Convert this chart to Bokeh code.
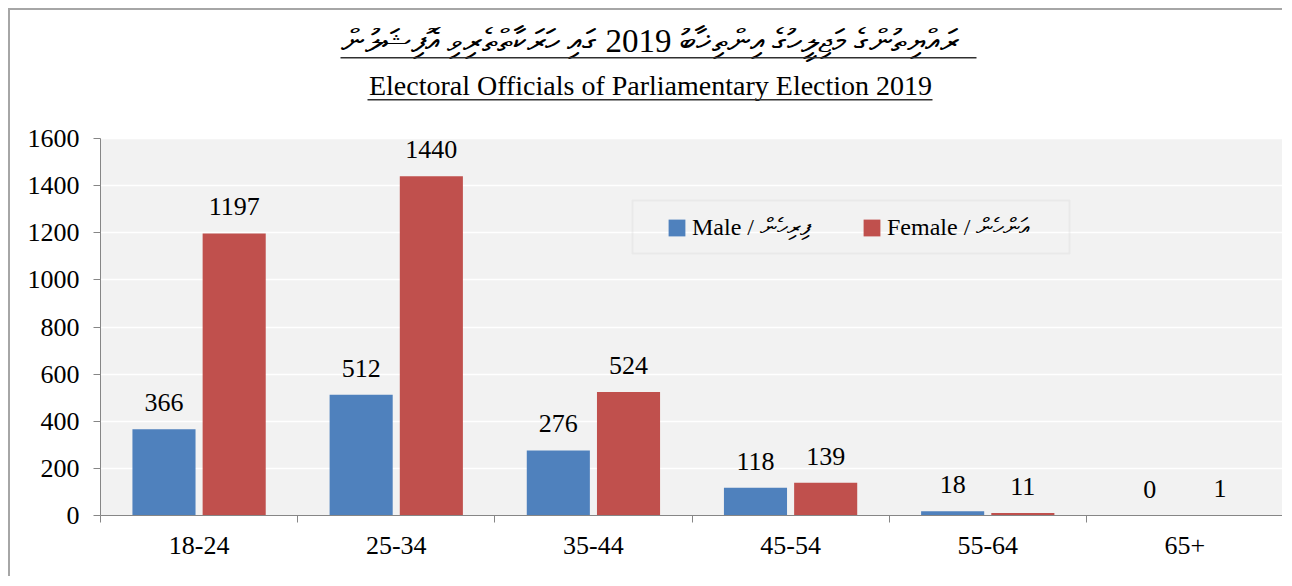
from bokeh.plotting import figure
from bokeh.models import (ColumnDataSource, Range1d, FixedTicker,
                          LabelSet, Label, Legend, LegendItem, BoxAnnotation)
from bokeh.transform import dodge
from bokeh.core.properties import value
from bokeh.embed import file_html
from bokeh.resources import INLINE

# ---- data ----
categories = ["18-24", "25-34", "35-44", "45-54", "55-64", "65+"]
male = [366, 512, 276, 118, 18, 0]
female = [1197, 1440, 524, 139, 11, 1]
y_ticks = [0, 200, 400, 600, 800, 1000, 1200, 1400, 1600]
title_dv = "ރައްޔިތުންގެ މަޖިލީހުގެ އިންތިޚާބު 2019 ގައި ހަރަކާތްތެރިވި އޮފިޝަލުން"
title_en = "Electoral Officials of Parliamentary Election 2019"
legend_male = "Male / ފިރިހެން"
legend_female = "Female / އަންހެން"

MALE_C = "#4f81bd"
FEMALE_C = "#c0504d"
AXIS_C = "#868686"
FONT = "Liberation Serif"

# layout (pixels)
FIG_W, FIG_H = 1274, 568
BORDER_BOTTOM = 63
PLOT_AREA_PX = 377           # height of the grey plot area (0..1600)
FRAME_PX = FIG_H - BORDER_BOTTOM
y_top = y_ticks[-1] * FRAME_PX / PLOT_AREA_PX   # room above the plot area for the titles

n = len(categories)
centers = [i + 0.5 for i in range(n)]
src = ColumnDataSource(dict(
    cat=categories, pos=centers, male=male, female=female,
    male_txt=[str(v) for v in male], female_txt=[str(v) for v in female],
))

p = figure(x_range=Range1d(0, n), y_range=Range1d(0, y_top),
           width=FIG_W, height=FIG_H, output_backend="svg", toolbar_location=None,
           min_border_left=90, min_border_right=1,
           min_border_top=0, min_border_bottom=BORDER_BOTTOM,
           background_fill_color="white", border_fill_color="white",
           outline_line_color=None, margin=(8, 0, 0, 8))
p.styles = {"border-top": "2px solid #a6a6a6", "border-left": "2px solid #a6a6a6"}

# grey plot area
p.add_layout(BoxAnnotation(left=0, right=n, bottom=0, top=y_ticks[-1],
                           fill_color="#f2f2f2", fill_alpha=1, line_color=None,
                           level="image"))

# y axis
yt = FixedTicker(ticks=y_ticks)
p.yaxis.ticker = yt
p.yaxis.bounds = (0, y_ticks[-1])
p.ygrid.ticker = yt
p.ygrid.grid_line_color = "white"
p.ygrid.grid_line_width = 1.5
p.xgrid.visible = False
p.yaxis.axis_line_color = AXIS_C
p.yaxis.major_tick_line_color = AXIS_C
p.yaxis.major_tick_out = 7
p.yaxis.major_tick_in = 0
p.yaxis.minor_tick_line_color = None
p.yaxis.major_label_text_font = FONT
p.yaxis.major_label_text_font_size = "26px"
p.yaxis.major_label_text_color = "black"
p.yaxis.major_label_standoff = 14

# x axis: ticks at category boundaries, labels at centres
xt = FixedTicker(ticks=centers, minor_ticks=list(range(n + 1)))
p.xaxis.ticker = xt
p.xaxis.major_label_overrides = {c: lab for c, lab in zip(centers, categories)}
p.xaxis.major_tick_out = 0
p.xaxis.major_tick_in = 0
p.xaxis.minor_tick_out = 7
p.xaxis.minor_tick_in = 0
p.xaxis.axis_line_color = AXIS_C
p.xaxis.minor_tick_line_color = AXIS_C
p.xaxis.major_label_text_font = FONT
p.xaxis.major_label_text_font_size = "26px"
p.xaxis.major_label_text_color = "black"
p.xaxis.major_label_standoff = 14

# bars
OFF = 0.178
W = 0.32
r_m = p.vbar(x=dodge("pos", -OFF), top="male", width=W, source=src,
             fill_color=MALE_C, line_color=None)
r_f = p.vbar(x=dodge("pos", OFF), top="female", width=W, source=src,
             fill_color=FEMALE_C, line_color=None)

for col, txt, off in (("male", "male_txt", -OFF), ("female", "female_txt", OFF)):
    p.add_layout(LabelSet(x=dodge("pos", off), y=col, text=txt, source=src,
                          text_align="center", text_baseline="alphabetic", y_offset=18,
                          text_font=value(FONT), text_font_size=value("26px"),
                          text_color=value("black")))

# titles (screen units, measured from the frame's lower-left corner)
p.add_layout(Label(x=550, y=475, x_units="screen", y_units="screen", text=title_dv,
                   text_align="center", text_baseline="middle", text_font=FONT,
                   text_font_size="33px", text_color="black"))
p.add_layout(BoxAnnotation(left=240, right=876, bottom=457, top=458.5,
                           left_units="screen", right_units="screen",
                           bottom_units="screen", top_units="screen",
                           fill_color="#303030", fill_alpha=1, line_color=None))
p.add_layout(Label(x=550, y=430, x_units="screen", y_units="screen", text=title_en,
                   text_align="center", text_baseline="middle", text_font=FONT,
                   text_font_size="28px", text_color="black"))
p.add_layout(BoxAnnotation(left=267, right=832, bottom=415, top=416.5,
                           left_units="screen", right_units="screen",
                           bottom_units="screen", top_units="screen",
                           fill_color="#303030", fill_alpha=1, line_color=None))

# legend box
p.add_layout(BoxAnnotation(left=532, right=969, bottom=262, top=315,
                           left_units="screen", right_units="screen",
                           bottom_units="screen", top_units="screen",
                           fill_alpha=0, line_color="#d4d4d4", line_width=2))

for lab, r, lx in ((legend_male, r_m, 566), (legend_female, r_f, 761)):
    leg = Legend(items=[LegendItem(label=lab, renderers=[r])], location=(lx, 274),
                 orientation="horizontal", padding=0, margin=0,
                 background_fill_alpha=0, border_line_color=None,
                 glyph_width=21, glyph_height=21, label_standoff=5,
                 label_text_font=FONT, label_text_font_size="24px",
                 label_text_color="black")
    p.add_layout(leg)

open("out.html", "w").write(file_html(p, INLINE))
